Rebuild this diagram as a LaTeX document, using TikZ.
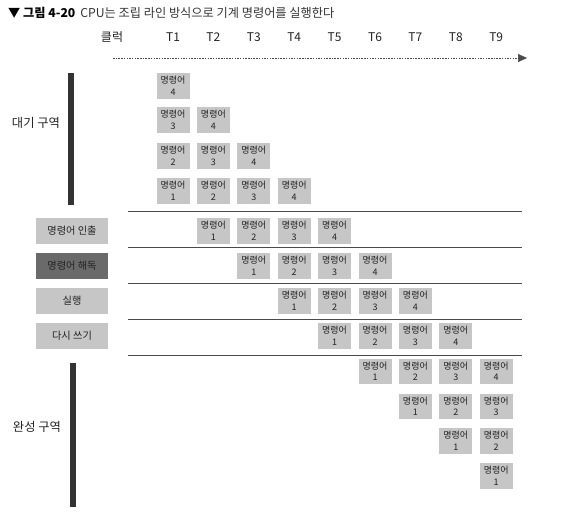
\documentclass[tikz,border=0pt]{standalone}
\usepackage{fontspec}
\setmainfont{Noto Sans CJK KR}
\usetikzlibrary{arrows.meta}
\definecolor{boxgray}{HTML}{C6C6C6}
\definecolor{darkbox}{HTML}{6A6A6A}
\definecolor{txt}{HTML}{222222}
\definecolor{barcol}{HTML}{333333}
\definecolor{linecol}{HTML}{4A4A4A}
\definecolor{titlegray}{HTML}{333333}
\tikzset{
  instr/.style={fill=boxgray, minimum width=33pt, minimum height=25.5pt, inner sep=0pt,
    align=center, text=txt, font=\fontsize{9}{11.5}\selectfont},
  stagebox/.style={fill=boxgray, minimum width=72pt, minimum height=26pt, inner sep=0pt,
    text=txt, font=\fontsize{10.2}{12}\selectfont},
  zonelabel/.style={text=txt, font=\fontsize{12.3}{14}\selectfont},
  clocklabel/.style={text=txt, font=\fontsize{12}{14}\selectfont},
  sepline/.style={line width=1pt, draw=linecol},
  zonebar/.style={fill=barcol},
  timearrow/.style={draw=linecol, line width=0.6pt, dash pattern=on 1.5pt off 1.2pt,
    -{Triangle[length=9pt,width=8pt]}}
}
\begin{document}
\begin{tikzpicture}[x=1pt,y=-1pt]
\useasboundingbox (0,0) rectangle (568,515);

% title
\node[anchor=west, inner sep=0pt, text=titlegray, font=\fontsize{12.2}{14}\selectfont] (title) at (8,13)
  {{\bfseries\color{black}▼ 그림 4-20}\hspace{5pt}CPU는 조립 라인 방식으로 기계 명령어를 실행한다};

% clock row
\node[clocklabel] (clk) at (112,37) {클럭};
\foreach \i in {1,...,9} {
  \node[clocklabel] (T\i) at ({173+40.4*(\i-1)},37) {T\i};
}
\coordinate (arrS) at (113,58);
\coordinate (arrE) at (527,58);
\draw[timearrow] (arrS) -- (arrE);

% zone bars and labels
\fill[zonebar] (68,73) rectangle (74,205);
\fill[zonebar] (70,363) rectangle (76,507);
\node[zonelabel] (wait) at (36,123) {대기 구역};
\node[zonelabel] (done) at (37,427) {완성 구역};

% separators
\foreach \k/\yy in {1/211,2/247,3/283,4/319,5/355} {
  \coordinate (sepL\k) at (128,\yy);
  \coordinate (sepR\k) at (522,\yy);
  \draw[sepline] (sepL\k) -- (sepR\k);
}

% stage labels
\node[stagebox] (fetch) at (72,231) {명령어 인출};
\node[stagebox, fill=darkbox] (decode) at (72,266) {명령어 해독};
\node[stagebox] (exec) at (72,301) {실행};
\node[stagebox] (wb) at (72,336) {다시 쓰기};

% waiting area
\foreach \r/\yy in {1/86,2/120,3/156,4/191} {
  \foreach \c in {1,...,\r} {
    \pgfmathtruncatemacro{\n}{4-\r+\c}
    \node[instr] (w\r-\c) at ({173+40.4*(\c-1)},\yy) {명령어\\\n};
  }
}

% pipeline stages
\foreach \s/\yy in {1/231,2/266,3/301,4/336} {
  \foreach \m in {1,...,4} {
    \pgfmathtruncatemacro{\c}{\s+\m}
    \node[instr] (s\s-\m) at ({173+40.4*(\c-1)},\yy) {명령어\\\m};
  }
}

% complete area
\foreach \k/\yy in {1/371.5,2/406.5,3/441,4/476} {
  \pgfmathtruncatemacro{\first}{5+\k}
  \foreach \c in {\first,...,9} {
    \pgfmathtruncatemacro{\n}{\c-\first+1}
    \node[instr] (d\k-\c) at ({173+40.4*(\c-1)},\yy) {명령어\\\n};
  }
}
\end{tikzpicture}
\end{document}
